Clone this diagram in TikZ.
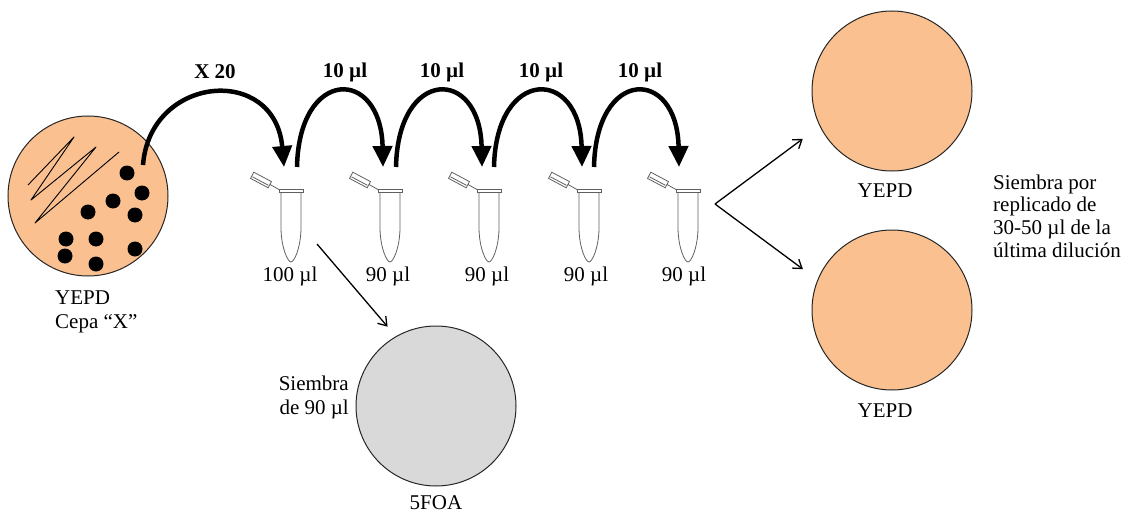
\documentclass[tikz,border=0pt]{standalone}
\usepackage{fontspec}
\setmainfont{Liberation Serif}
\usepackage{xcolor}
\usetikzlibrary{arrows.meta}
\definecolor{naranjaplaca}{RGB}{250,192,144}
\definecolor{grisplaca}{RGB}{217,217,217}

\begin{document}
\begin{tikzpicture}[
	x=1pt, y=-1pt,
	every node/.style={font=\fontsize{21}{24}\selectfont, inner sep=0pt},
	placa/.style={
		circle, draw=black!85, line width=1pt,
		minimum size=160pt, inner sep=0pt
	},
	flecha_gruesa/.style={
		-{Triangle[length=21pt, width=19pt]},
		line width=4.5pt, black
	},
	flecha_fina/.style={
		-{Straight Barb[length=8pt, width=11pt]},
		line width=1.3pt, black
	},
	linea_tubo/.style={draw=gray!75!black, line width=0.8pt},
	etiqueta_arco/.style={font=\fontsize{21}{24}\selectfont\bfseries},
	tubo/.pic={
		\draw[linea_tubo] (-10,1.5) -- (-10,38) .. controls (-9.5,58) and (-3,71) .. (0,71)
			.. controls (3,71) and (9.5,58) .. (10,38) -- (10,1.5);
		\draw[linea_tubo] (-12,-1.5) rectangle (12,1.5);
		\draw[linea_tubo] (-12,-1.5) -- (-21,-6.5);
		\begin{scope}[shift={(-30,-11)}, rotate=-28]
			\draw[linea_tubo] (-10,-3.5) rectangle (10,3.5);
			\draw[linea_tubo] (-9,1.2) -- (9,1.2);
		\end{scope}
	}
	]
	\useasboundingbox (0,0) rectangle (1127,516);
	
	% --- 1. PLACA INICIAL (Cepa "X") ---
	\node[placa, fill=naranjaplaca] (placa_cepa) at (88,196) {};
	\draw[black, line width=0.9pt, line join=round]
		(28,185) -- (74,137) -- (31,200) -- (96,147) -- (35,223) -- (119,152);
	\fill (127,173) circle (7.5pt);
	\fill (142,193) circle (7.5pt);
	\fill (113,201) circle (7.5pt);
	\fill (135,215) circle (7.5pt);
	\fill (88,212) circle (7.5pt);
	\fill (66,239) circle (7.5pt);
	\fill (96,239) circle (7.5pt);
	\fill (65,256) circle (7.5pt);
	\fill (96,264) circle (7.5pt);
	\fill (135,249) circle (7.5pt);
	\node[anchor=west, align=left] (R_cepa) at (55,312) {YEPD\\Cepa “X”};
	
	% --- 2. TUBOS DE DILUCION ---
	\coordinate (T1) at (291,191);
	\coordinate (T2) at (390,191);
	\coordinate (T3) at (489,191);
	\coordinate (T4) at (589,191);
	\coordinate (T5) at (688,191);
	\pic at (T1) {tubo};
	\pic at (T2) {tubo};
	\pic at (T3) {tubo};
	\pic at (T4) {tubo};
	\pic at (T5) {tubo};
	
	\node (V1) at (290,276) {100 µl};
	\node (V2) at (388,276) {90 µl};
	\node (V3) at (487,276) {90 µl};
	\node (V4) at (586,276) {90 µl};
	\node (V5) at (684,276) {90 µl};
	
	% --- 3. FLECHAS GRUESAS (Diluciones seriadas) ---
	\coordinate (toma) at (143,165);
	\draw[flecha_gruesa] (toma) .. controls +(7,-90) and +(-9,-103) .. ([shift={(-7,-24)}]T1);
	\draw[flecha_gruesa] ([shift={(6,-24)}]T1) .. controls +(2,-100) and +(-2,-100) .. ([shift={(-7,-24)}]T2);
	\draw[flecha_gruesa] ([shift={(6,-24)}]T2) .. controls +(2,-100) and +(-2,-100) .. ([shift={(-7,-24)}]T3);
	\draw[flecha_gruesa] ([shift={(5,-24)}]T3) .. controls +(2,-100) and +(-2,-100) .. ([shift={(-7,-24)}]T4);
	\draw[flecha_gruesa] ([shift={(5,-24)}]T4) .. controls +(2,-100) and +(-2,-100) .. ([shift={(-9,-24)}]T5);
	
	\node[etiqueta_arco] (E0) at (215,72) {X 20};
	\node[etiqueta_arco] (E1) at (345,72) {10 µl};
	\node[etiqueta_arco] (E2) at (442,72) {10 µl};
	\node[etiqueta_arco] (E3) at (541,72) {10 µl};
	\node[etiqueta_arco] (E4) at (640,72) {10 µl};
	
	% --- 4. PLACA 5FOA ---
	\node[placa, fill=grisplaca] (placa_5foa) at (436,406) {};
	\node (R_5foa) at (436,503) {5FOA};
	\node[anchor=east, align=right] (R_siembra) at (349,397) {Siembra\\de 90 µl};
	\coordinate (sal1) at (317,244);
	\draw[flecha_fina, shorten >=12.6pt] (sal1) -- (placa_5foa.120);
	
	% --- 5. PLACAS YEPD (Replicado) ---
	\node[placa, fill=naranjaplaca] (placa_yepd1) at (892,91) {};
	\node[placa, fill=naranjaplaca] (placa_yepd2) at (892,310) {};
	\node (R_yepd1) at (885,191) {YEPD};
	\node (R_yepd2) at (885,411) {YEPD};
	\coordinate (sal5) at (715,204);
	\draw[flecha_fina, shorten >=21pt] (sal5) -- (placa_yepd1.206);
	\draw[flecha_fina, shorten >=18pt] (sal5) -- (placa_yepd2.158);
	
	\node[anchor=west, align=left, font=\fontsize{21}{22.7}\selectfont] (R_replica) at (993,216)
	{Siembra por\\replicado de\\30-50 µl de la\\última dilución};
	
\end{tikzpicture}
\end{document}
